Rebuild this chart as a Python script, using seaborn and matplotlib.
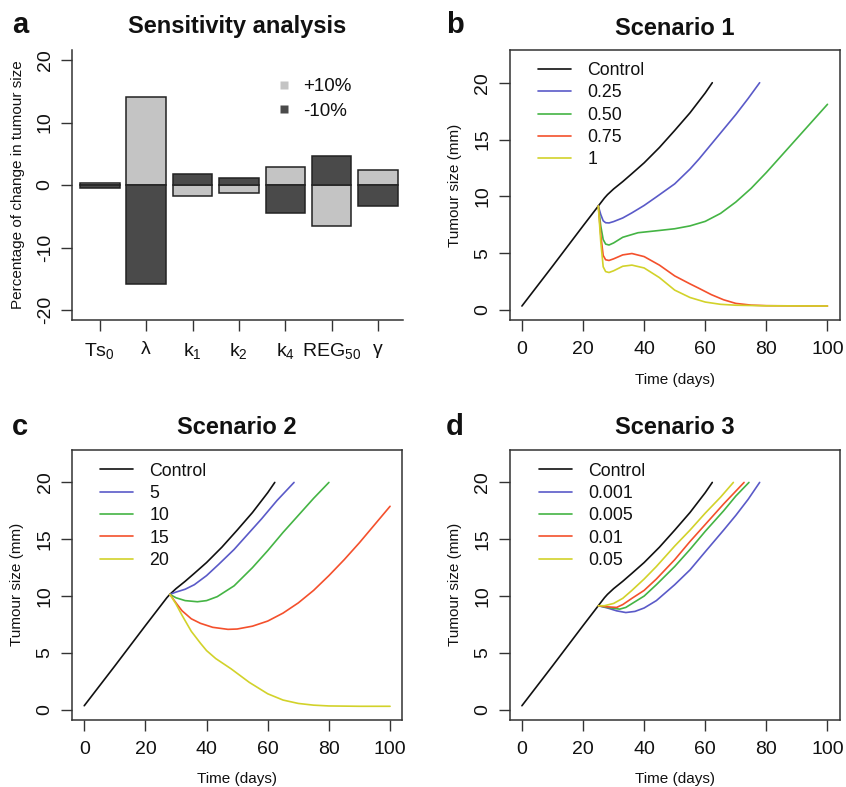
import numpy as np
import pandas as pd
import matplotlib
matplotlib.use('Agg')
import matplotlib.pyplot as plt
import seaborn as sns
from matplotlib.lines import Line2D

# ---- panel a : sensitivity analysis ----
params = ['Ts$_0$', 'λ', 'k$_1$', 'k$_2$', 'k$_4$', 'REG$_{50}$', 'γ']
plus10 = [0.4, 14.1, -1.8, -1.2, 2.85, -6.6, 2.45]
minus10 = [-0.5, -15.9, 1.8, 1.2, -4.4, 4.65, -3.3]

# ---- shared control curve ----
ctrl_day = [0, 10, 20, 25, 27, 28, 30, 33, 36, 40, 45, 50, 55, 60, 62.3]
ctrl_mm = [0.35, 3.85, 7.4, 9.15, 9.85, 10.15, 10.65, 11.3, 12.0, 12.95, 14.3, 15.8, 17.35, 19.1, 20.0]

# ---- scenario 1 ----
s1_labels = ['Control', '0.25', '0.50', '0.75', '1']
s1a_day = [25, 25.8, 26.6, 27.4, 28.5, 30, 33, 36, 40, 44, 50, 55, 58, 62, 66, 70, 74, 77.8]
s1a_mm = [9.15, 8.4, 7.85, 7.68, 7.66, 7.78, 8.1, 8.55, 9.2, 9.95, 11.1, 12.4, 13.3, 14.6, 15.9, 17.2, 18.6, 20.0]
s1b_day = [25, 25.8, 26.6, 27.4, 28.5, 30, 33, 38, 45, 50, 55, 60, 65, 70, 75, 80, 85, 90, 95, 100]
s1b_mm = [9.15, 7.4, 6.2, 5.8, 5.72, 5.9, 6.4, 6.8, 7.0, 7.15, 7.4, 7.8, 8.5, 9.5, 10.7, 12.1, 13.6, 15.1, 16.6, 18.1]
s1c_day = [25, 25.8, 26.6, 27.4, 28.5, 30, 33, 36, 40, 45, 50, 55, 58, 62, 66, 70, 75, 80, 90, 100]
s1c_mm = [9.15, 6.6, 4.8, 4.42, 4.36, 4.5, 4.85, 4.97, 4.7, 3.95, 3.0, 2.3, 1.9, 1.35, 0.9, 0.58, 0.43, 0.38, 0.36, 0.35]
s1d_day = [25, 25.8, 26.6, 27.4, 28.5, 30, 33, 36, 40, 45, 50, 55, 60, 65, 70, 80, 100]
s1d_mm = [9.15, 6.0, 3.8, 3.38, 3.3, 3.45, 3.85, 3.95, 3.7, 2.85, 1.75, 1.1, 0.7, 0.5, 0.42, 0.37, 0.35]

# ---- scenario 2 ----
s2_labels = ['Control', '5', '10', '15', '20']
s2a_day = [28, 30, 33, 36, 40, 44, 49, 54, 58, 63, 68.6]
s2a_mm = [10.15, 10.35, 10.6, 11.0, 11.8, 12.8, 14.1, 15.6, 16.8, 18.4, 20.0]
s2b_day = [28, 30, 33, 37, 40, 43.5, 49, 55, 60, 65, 70, 75, 80]
s2b_mm = [10.15, 9.85, 9.6, 9.5, 9.6, 9.95, 10.9, 12.5, 14.0, 15.6, 17.1, 18.6, 20.0]
s2c_day = [28, 30, 32, 35, 38, 42, 47, 50, 55, 60, 65, 70, 75, 80, 85, 90, 95, 100]
s2c_mm = [10.15, 9.4, 8.7, 8.0, 7.6, 7.25, 7.07, 7.1, 7.35, 7.8, 8.5, 9.4, 10.5, 11.8, 13.2, 14.7, 16.3, 17.9]
s2d_day = [28, 30, 32, 35, 38, 40, 43, 48, 54, 60, 65, 70, 75, 80, 90, 100]
s2d_mm = [10.15, 9.3, 8.3, 6.9, 5.85, 5.2, 4.5, 3.6, 2.4, 1.4, 0.85, 0.55, 0.4, 0.33, 0.3, 0.3]

# ---- scenario 3 ----
s3_labels = ['Control', '0.001', '0.005', '0.01', '0.05']
s3a_day = [25, 28, 31, 34, 37, 40, 44, 50, 55, 60, 66, 70, 74, 77.8]
s3a_mm = [9.15, 8.95, 8.7, 8.55, 8.65, 8.95, 9.6, 11.0, 12.3, 13.9, 15.8, 17.1, 18.5, 20.0]
s3b_day = [25, 28, 32, 34, 37, 40, 44, 50, 55, 60, 66, 70, 74.3]
s3b_mm = [9.15, 9.0, 8.85, 9.0, 9.5, 10.0, 11.0, 12.6, 14.1, 15.7, 17.5, 18.8, 20.0]
s3c_day = [25, 28, 31, 33, 36, 40, 44, 50, 55, 60, 66, 72.7]
s3c_mm = [9.15, 9.05, 9.0, 9.25, 9.8, 10.5, 11.5, 13.2, 14.8, 16.3, 18.1, 20.0]
s3d_day = [25, 27, 30, 33, 36, 40, 44, 50, 55, 60, 65, 69.2]
s3d_mm = [9.15, 9.15, 9.35, 9.8, 10.5, 11.5, 12.6, 14.4, 15.8, 17.3, 18.7, 20.0]

line_colors = ['#111111', '#5a5ac8', '#44b444', '#f4502c', '#d2d22a']
light_grey = '#c4c4c4'
dark_grey = '#4a4a4a'

sns.set_theme(style='ticks')
plt.rcParams['font.family'] = ['Liberation Sans', 'DejaVu Sans']
plt.rcParams['mathtext.default'] = 'regular'
plt.rcParams['axes.unicode_minus'] = False
plt.rcParams['text.color'] = '#111111'
plt.rcParams['axes.labelcolor'] = '#111111'
plt.rcParams['axes.edgecolor'] = '#333333'
plt.rcParams['axes.linewidth'] = 1.1
plt.rcParams['xtick.color'] = '#333333'
plt.rcParams['ytick.color'] = '#333333'
plt.rcParams['xtick.labelcolor'] = '#111111'
plt.rcParams['ytick.labelcolor'] = '#111111'

fig = plt.figure(figsize=(8.46, 7.87), dpi=100)
W, H = 846, 787


def px_axes(left, top, right, bottom):
    return fig.add_axes([left / W, 1 - bottom / H, (right - left) / W, (bottom - top) / H])


def style_ticks(ax):
    ax.tick_params(axis='both', length=8.2, width=1.0, labelsize=14, direction='out')
    ax.tick_params(axis='x', pad=7)
    ax.tick_params(axis='y', pad=5, labelrotation=90)
    plt.setp(ax.get_yticklabels(), va='center')


# ---------------- panel a ----------------
ax_a = px_axes(72, 50, 403, 320)
sns.barplot(x=params, y=plus10, color=light_grey, saturation=1, edgecolor='#222222',
            linewidth=1.1, width=0.85, ax=ax_a)
sns.barplot(x=params, y=minus10, color=dark_grey, saturation=1, edgecolor='#222222',
            linewidth=1.1, width=0.85, ax=ax_a)
ax_a.set_xlim(-0.6, 6.54)
ax_a.set_ylim(-21.6, 21.6)
ax_a.set_yticks([-20, -10, 0, 10, 20])
sns.despine(ax=ax_a)
style_ticks(ax_a)
ax_a.set_ylabel('Percentage of change in tumour size', fontsize=11)
ax_a.yaxis.set_label_coords(-0.142, 0.5)
ax_a.set_title('Sensitivity analysis', fontsize=17, fontweight='bold', pad=12)
leg_a = [Line2D([], [], ls='none', marker='s', ms=6, mec='none', mfc=light_grey),
         Line2D([], [], ls='none', marker='s', ms=6, mec='none', mfc=dark_grey)]
ax_a.legend(leg_a, ['+10%', '-10%'], loc='upper left', bbox_to_anchor=(0.619, 0.895),
            frameon=False, fontsize=13.5, handlelength=0.8, handletextpad=0.6,
            labelspacing=0.38, borderpad=0, borderaxespad=0)


# ---------------- panels b, c, d ----------------
def scenario_panel(ax, curves, labels, title, leg_x, leg_y):
    frames = []
    for lab, (d, v) in zip(labels, curves):
        frames.append(pd.DataFrame({'day': d, 'mm': v, 'group': lab}))
    df = pd.concat(frames, ignore_index=True)
    sns.lineplot(data=df, x='day', y='mm', hue='group', hue_order=labels,
                 palette=line_colors, estimator=None, sort=False, lw=1.2,
                 legend=False, ax=ax)
    ax.set_xlim(-4, 104)
    ax.set_ylim(-0.88, 22.88)
    ax.set_xticks([0, 20, 40, 60, 80, 100])
    ax.set_yticks([0, 5, 10, 15, 20])
    style_ticks(ax)
    ax.set_xlabel('Time (days)', fontsize=11)
    ax.set_ylabel('Tumour size (mm)', fontsize=11)
    ax.yaxis.set_label_coords(-0.145, 0.5)
    ax.xaxis.set_label_coords(0.5, -0.195)
    ax.set_title(title, fontsize=17, fontweight='bold', pad=11)
    handles = [Line2D([], [], color=c, lw=1.2) for c in line_colors]
    ax.legend(handles, labels, loc='upper left', bbox_to_anchor=(leg_x, leg_y),
              frameon=False, fontsize=12.8, handlelength=1.87, handletextpad=0.9,
              labelspacing=0.3, borderpad=0, borderaxespad=0)


ax_b = px_axes(509.7, 50, 839.7, 320)
scenario_panel(ax_b,
               [(ctrl_day, ctrl_mm), (s1a_day, s1a_mm), (s1b_day, s1b_mm),
                (s1c_day, s1c_mm), (s1d_day, s1d_mm)],
               s1_labels, 'Scenario 1', 0.086, 0.955)

ax_c = px_axes(72, 449.7, 402.3, 719.7)
scenario_panel(ax_c,
               [(ctrl_day, ctrl_mm), (s2a_day, s2a_mm), (s2b_day, s2b_mm),
                (s2c_day, s2c_mm), (s2d_day, s2d_mm)],
               s2_labels, 'Scenario 2', 0.085, 0.952)

ax_d = px_axes(509.7, 449.7, 839.7, 719.7)
scenario_panel(ax_d,
               [(ctrl_day, ctrl_mm), (s3a_day, s3a_mm), (s3b_day, s3b_mm),
                (s3c_day, s3c_mm), (s3d_day, s3d_mm)],
               s3_labels, 'Scenario 3', 0.088, 0.952)

# panel letters
for letter, x, y in [('a', 12, 33), ('b', 446, 33), ('c', 12, 435), ('d', 446, 435)]:
    fig.text(x / W, 1 - y / H, letter, fontsize=21, fontweight='bold', ha='left', va='baseline')

fig.savefig('out.png', dpi=100)
